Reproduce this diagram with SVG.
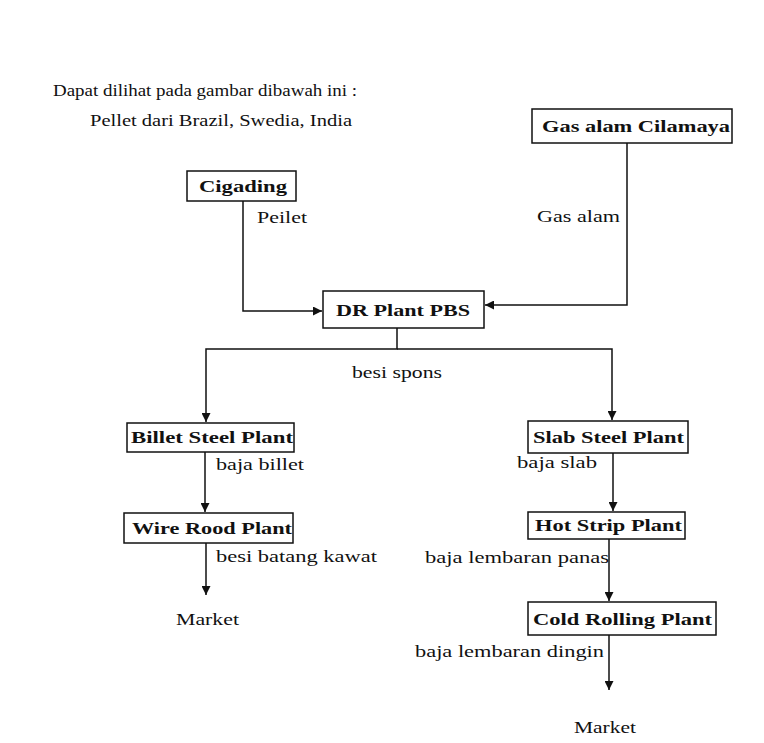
<svg xmlns="http://www.w3.org/2000/svg" width="764" height="743" viewBox="0 0 764 743">
<style>
.t{font-family:"Liberation Serif","Times New Roman",serif;font-size:16px;fill:#111}
.b{font-family:"Liberation Serif","Times New Roman",serif;font-size:17px;font-weight:bold;fill:#111}
.box{fill:#fff;stroke:#111;stroke-width:1.5}
.c{fill:none;stroke:#111;stroke-width:1.5}
</style>
<defs>
<marker id="ah" markerUnits="userSpaceOnUse" markerWidth="9" markerHeight="9" refX="9" refY="4.5" orient="auto">
<path d="M0,0 L9,4.5 L0,9 z" fill="#111"/>
</marker>
</defs>
<rect width="764" height="743" fill="#fff"/>
<g id="intro">
<text class="t" x="53" y="96" textLength="304" lengthAdjust="spacingAndGlyphs">Dapat dilihat pada gambar dibawah ini :</text>
<text class="t" x="90" y="126" textLength="262" lengthAdjust="spacingAndGlyphs">Pellet dari Brazil, Swedia, India</text>
</g>
<g id="connectors">
<path class="c" d="M243,201 V311 H322" marker-end="url(#ah)"/>
<path class="c" d="M627,143 V305 H485" marker-end="url(#ah)"/>
<path class="c" d="M397,328 V349 H206 V422" marker-end="url(#ah)"/>
<path class="c" d="M397,349 H612 V420" marker-end="url(#ah)"/>
<path class="c" d="M205,452 V512" marker-end="url(#ah)"/>
<path class="c" d="M206,543 V595" marker-end="url(#ah)"/>
<path class="c" d="M613,453 V511" marker-end="url(#ah)"/>
<path class="c" d="M609,539 V601" marker-end="url(#ah)"/>
<path class="c" d="M609,635 V690" marker-end="url(#ah)"/>
</g>
<g id="labels">
<text class="t" x="257" y="223" textLength="50" lengthAdjust="spacingAndGlyphs">Peilet</text>
<text class="t" x="537" y="222" textLength="83" lengthAdjust="spacingAndGlyphs">Gas alam</text>
<text class="t" x="352" y="378" textLength="90" lengthAdjust="spacingAndGlyphs">besi spons</text>
<text class="t" x="216" y="470" textLength="88" lengthAdjust="spacingAndGlyphs">baja billet</text>
<text class="t" x="517" y="468" textLength="80" lengthAdjust="spacingAndGlyphs">baja slab</text>
<text class="t" x="216" y="562" textLength="161" lengthAdjust="spacingAndGlyphs">besi batang kawat</text>
<text class="t" x="425" y="563" textLength="184" lengthAdjust="spacingAndGlyphs">baja lembaran panas</text>
<text class="t" x="415" y="657" textLength="189" lengthAdjust="spacingAndGlyphs">baja lembaran dingin</text>
<text class="t" x="176" y="625" textLength="63" lengthAdjust="spacingAndGlyphs">Market</text>
<text class="t" x="574" y="733" textLength="62" lengthAdjust="spacingAndGlyphs">Market</text>
</g>
<g id="gas">
<rect class="box" x="532" y="109" width="200" height="34"/>
<text class="b" x="542" y="132" textLength="188" lengthAdjust="spacingAndGlyphs">Gas alam Cilamaya</text>
</g>
<g id="cigading">
<rect class="box" x="187" y="171" width="109" height="30"/>
<text class="b" x="199" y="192" textLength="88" lengthAdjust="spacingAndGlyphs">Cigading</text>
</g>
<g id="drplant">
<rect class="box" x="323" y="291" width="161" height="37"/>
<text class="b" x="336" y="316" textLength="134" lengthAdjust="spacingAndGlyphs">DR Plant PBS</text>
</g>
<g id="billet">
<rect class="box" x="127" y="423" width="167" height="29"/>
<text class="b" x="131" y="443" textLength="162" lengthAdjust="spacingAndGlyphs">Billet Steel Plant</text>
</g>
<g id="wire">
<rect class="box" x="124" y="513" width="169" height="30"/>
<text class="b" x="132" y="534" textLength="160" lengthAdjust="spacingAndGlyphs">Wire Rood Plant</text>
</g>
<g id="slab">
<rect class="box" x="528" y="421" width="160" height="32"/>
<text class="b" x="533" y="443" textLength="151" lengthAdjust="spacingAndGlyphs">Slab Steel Plant</text>
</g>
<g id="hotstrip">
<rect class="box" x="528" y="512" width="157" height="27"/>
<text class="b" x="535" y="531" textLength="147" lengthAdjust="spacingAndGlyphs">Hot Strip Plant</text>
</g>
<g id="coldrolling">
<rect class="box" x="528" y="602" width="188" height="33"/>
<text class="b" x="533" y="625" textLength="179" lengthAdjust="spacingAndGlyphs">Cold Rolling Plant</text>
</g>
</svg>
